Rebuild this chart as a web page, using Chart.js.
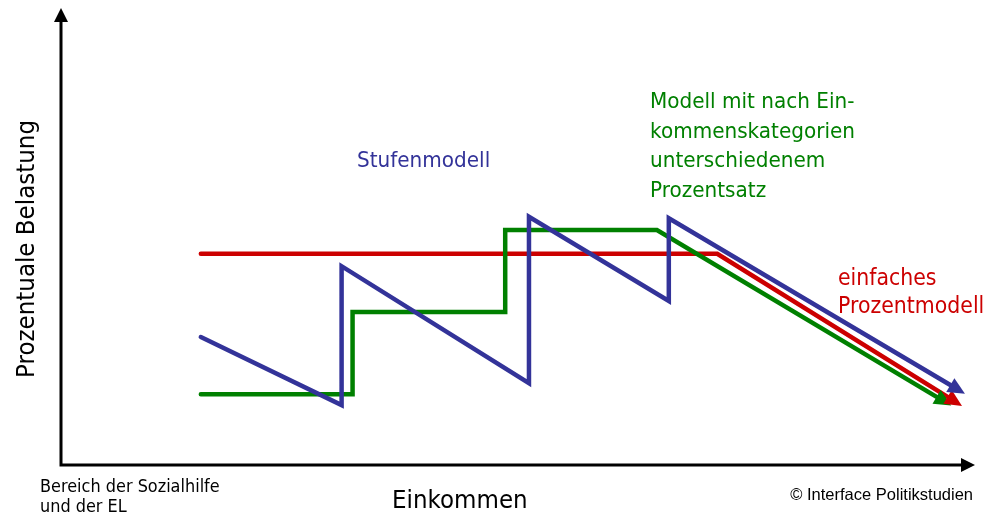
<!DOCTYPE html>
<html lang="de">
<head>
<meta charset="utf-8">
<title>Belastungsmodelle</title>
<script src="https://cdn.jsdelivr.net/npm/chart.js@4"></script>
<style>
  html, body { margin: 0; padding: 0; background: #fff; }
  #wrap { position: relative; width: 993px; height: 519px; overflow: hidden; }
  #chart { position: absolute; left: 0; top: 0; }
  .lbl { position: absolute; white-space: nowrap; font-family: "DejaVu Sans", Tahoma, sans-serif; transform-origin: 0 0; }
  .blue { color: #333399; }
  .green { color: #008000; }
  .red { color: #cc0000; }
</style>
</head>
<body>
<div id="wrap">
  <canvas id="chart" width="993" height="519"></canvas>
  <div class="lbl" id="y-title" style="left:26px;top:249px;font-size:25px;line-height:28px;transform-origin:50% 50%;transform:translate(-50%,-50%) rotate(-90deg) scaleX(0.92);">Prozentuale Belastung</div>
  <div class="lbl" style="left:392px;top:485px;font-size:25px;line-height:30px;transform:scaleX(0.92);">Einkommen</div>
  <div class="lbl" style="left:40px;top:476px;font-size:17.5px;line-height:20px;transform:scaleX(0.92);">Bereich der Sozialhilfe<br>und der EL</div>
  <div class="lbl" style="right:20px;top:484px;font-size:16.5px;line-height:20px;font-family:'Liberation Sans',Arial,sans-serif;">© Interface Politikstudien</div>
  <div class="lbl blue" style="left:357px;top:145px;font-size:22px;line-height:30px;transform:scaleX(0.91);">Stufenmodell</div>
  <div class="lbl green" style="left:650px;top:86px;font-size:22px;line-height:29.5px;transform:scaleX(0.91);">Modell mit nach Ein-<br>kommenskategorien<br>unterschiedenem<br>Prozentsatz</div>
  <div class="lbl red" style="left:838px;top:263px;font-size:22.5px;line-height:28px;transform:scaleX(0.91);">einfaches<br>Prozentmodell</div>
</div>
<script>
// Schema ohne Zahlenwerte: Einkommen (x) und Belastung (y) in Prozent der Achsenlänge
const stufenX = [15.3, 30.7, 30.7, 51.2, 51.2, 66.5, 66.5, 97.3];
const stufenY = [28.0, 13.1, 43.5, 17.9, 54.3, 35.9, 54.0, 17.5];

const kategorienX = [15.3, 31.9, 31.9, 48.6, 48.6, 65.2, 95.8];
const kategorienY = [15.5, 15.5, 33.5, 33.5, 51.4, 51.4, 14.9];

const prozentX = [15.3, 71.8, 97.0];
const prozentY = [46.2, 46.2, 14.9];

const BLUE = "#333399", GREEN = "#008000", RED = "#cc0000";

const pts = (xs, ys) => xs.map((x, i) => ({ x, y: ys[i] }));

// ── Achsen mit Pfeilspitzen ─────────────────────────────
const axesPlugin = {
  id: "axes",
  beforeDatasetsDraw(chart) {
    const { ctx, chartArea: a } = chart;
    const head = 14, half = 7;
    ctx.save();
    ctx.strokeStyle = "#000";
    ctx.fillStyle = "#000";
    ctx.lineWidth = 3;
    ctx.beginPath();
    ctx.moveTo(a.left, a.top + head - 1);
    ctx.lineTo(a.left, a.bottom);
    ctx.lineTo(a.right - head + 1, a.bottom);
    ctx.stroke();
    ctx.beginPath();
    ctx.moveTo(a.left, a.top);
    ctx.lineTo(a.left - half, a.top + head);
    ctx.lineTo(a.left + half, a.top + head);
    ctx.closePath();
    ctx.fill();
    ctx.beginPath();
    ctx.moveTo(a.right, a.bottom);
    ctx.lineTo(a.right - head, a.bottom - half);
    ctx.lineTo(a.right - head, a.bottom + half);
    ctx.closePath();
    ctx.fill();
    ctx.restore();
  },
};

// ── Pfeilspitze am Ende jeder Kurve ─────────────────────
const arrowPlugin = {
  id: "arrowHeads",
  afterDatasetsDraw(chart) {
    const { ctx } = chart;
    const len = 17, half = 8;
    const order = chart.data.datasets.map((d, i) => i).sort((a, b) => chart.data.datasets[a].arrowZ - chart.data.datasets[b].arrowZ);
    order.forEach(i => {
      const pts = chart.getDatasetMeta(i).data;
      const end = pts[pts.length - 1], prev = pts[pts.length - 2];
      const dx = end.x - prev.x, dy = end.y - prev.y;
      const d = Math.hypot(dx, dy);
      const ux = dx / d, uy = dy / d;
      ctx.save();
      ctx.fillStyle = chart.data.datasets[i].borderColor;
      ctx.beginPath();
      ctx.moveTo(end.x + ux * len, end.y + uy * len);
      ctx.lineTo(end.x - uy * half, end.y + ux * half);
      ctx.lineTo(end.x + uy * half, end.y - ux * half);
      ctx.closePath();
      ctx.fill();
      ctx.restore();
    });
  },
};

const line = (label, data, color, arrowZ) => ({
  label, data, arrowZ,
  borderColor: color,
  backgroundColor: color,
  borderWidth: 4.5,
  borderCapStyle: "round",
  borderJoinStyle: "miter",
  pointRadius: 0,
  tension: 0,
  fill: false,
});

new Chart(document.getElementById("chart"), {
  type: "line",
  data: {
    datasets: [
      line("Stufenmodell", pts(stufenX, stufenY), BLUE, 3),
      line("Modell mit nach Einkommenskategorien unterschiedenem Prozentsatz", pts(kategorienX, kategorienY), GREEN, 1),
      line("einfaches Prozentmodell", pts(prozentX, prozentY), RED, 2),
    ],
  },
  options: {
    responsive: false,
    animation: false,
    devicePixelRatio: 1,
    layout: { padding: { left: 61, right: 18, top: 8, bottom: 54 } },
    plugins: { legend: { display: false }, tooltip: { enabled: false } },
    events: [],
    scales: {
      x: { type: "linear", min: 0, max: 100, display: false },
      y: { type: "linear", min: 0, max: 100, display: false },
    },
  },
  plugins: [axesPlugin, arrowPlugin],
});
</script>
</body>
</html>
